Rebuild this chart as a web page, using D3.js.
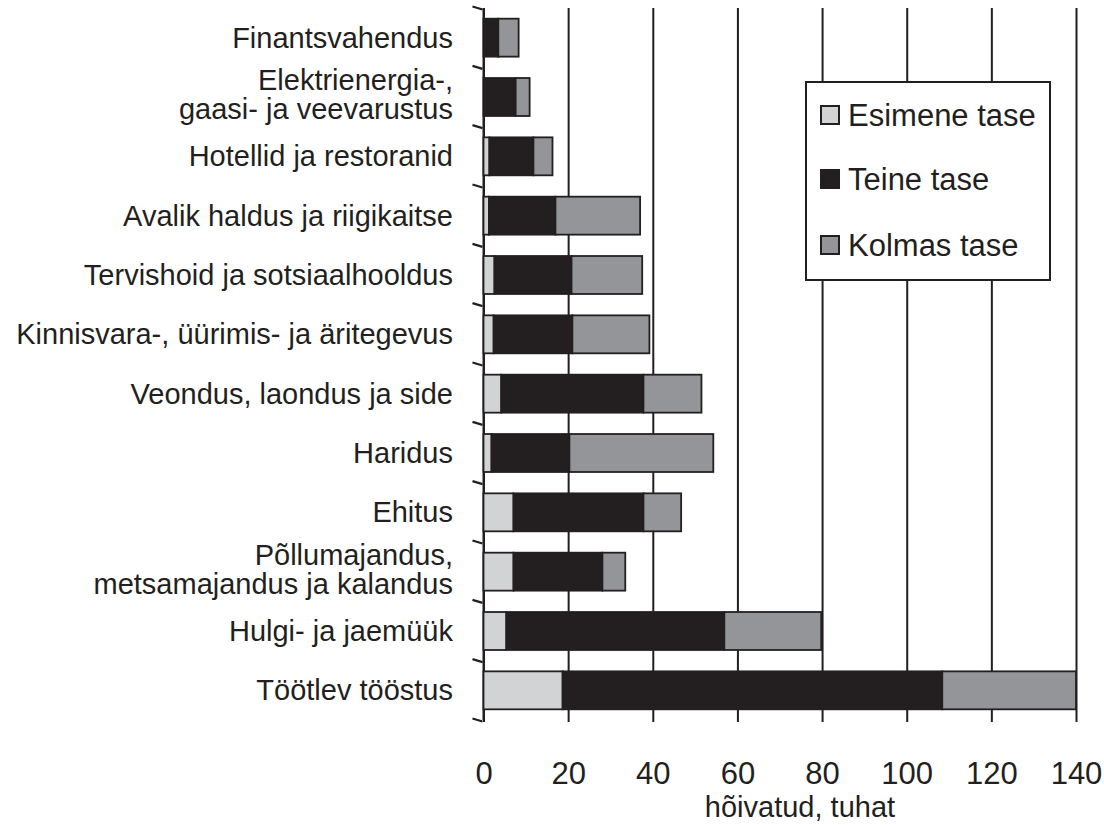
<!DOCTYPE html>
<html>
<head>
<meta charset="utf-8">
<script src="https://cdn.jsdelivr.net/npm/d3@7"></script>
<style>
  html, body { margin: 0; padding: 0; background: #ffffff; }
  svg { display: block; }
  text { font-family: "Liberation Sans", Arial, Helvetica, sans-serif; fill: #231f20; }
</style>
</head>
<body>
<svg id="chart" width="1104" height="825"></svg>
<script>
// Tegevusalad (ülevalt alla) ja hõivatute arv tasemeti, tuhat
const categories = [
  ["Finantsvahendus"],
  ["Elektrienergia-,", "gaasi- ja veevarustus"],
  ["Hotellid ja restoranid"],
  ["Avalik haldus ja riigikaitse"],
  ["Tervishoid ja sotsiaalhooldus"],
  ["Kinnisvara-, üürimis- ja äritegevus"],
  ["Veondus, laondus ja side"],
  ["Haridus"],
  ["Ehitus"],
  ["Põllumajandus,", "metsamajandus ja kalandus"],
  ["Hulgi- ja jaemüük"],
  ["Töötlev tööstus"]
];
const esimene = [0, 0, 1.4, 1.3, 2.6, 2.4, 4.2, 1.9, 7.1, 7.1, 5.4, 18.7];
const teine   = [3.5, 7.6, 10.4, 15.7, 18.2, 18.6, 33.6, 18.4, 30.7, 21.0, 51.5, 89.7];
const kolmas  = [4.8, 3.3, 4.5, 20.0, 16.7, 18.2, 13.7, 34.0, 8.9, 5.4, 22.9, 31.6];
const seriesNames = ["Esimene tase", "Teine tase", "Kolmas tase"];
const seriesColors = ["#d1d3d4", "#231f20", "#939598"];
const xTicks = [0, 20, 40, 60, 80, 100, 120, 140];
const xTitle = "hõivatud, tuhat";

const ink = "#231f20";
const svg = d3.select("#chart");

const keys = categories.map(c => c.join(" "));
const rows = keys.map((k, i) => ({ key: k, s0: esimene[i], s1: teine[i], s2: kolmas[i] }));

const plotTop = 8, plotBottom = 720, gridBottom = 722;
const x = d3.scaleLinear().domain([0, 140]).range([483.5, 1076]);
const y = d3.scaleBand().domain(keys).range([plotTop, plotBottom])
  .paddingInner(0.36).paddingOuter(0.18);

// x axis: tick labels plus full-height gridlines
const xAxis = svg.append("g")
  .attr("transform", `translate(0,${gridBottom})`)
  .call(d3.axisBottom(x).tickValues(xTicks).tickSize(-(gridBottom - plotTop)).tickPadding(40));
xAxis.select(".domain").remove();
xAxis.selectAll(".tick line").attr("stroke", ink).attr("stroke-width", 2);
xAxis.selectAll(".tick text")
  .attr("font-size", 31).attr("fill", ink)
  .style("font-family", "'Liberation Sans', Arial, sans-serif");

// axis title
svg.append("text")
  .attr("x", 800).attr("y", 817)
  .attr("text-anchor", "middle")
  .attr("font-size", 29)
  .text(xTitle);

// y axis line and slanted category separators
svg.append("line")
  .attr("x1", x(0)).attr("x2", x(0))
  .attr("y1", plotTop).attr("y2", plotBottom)
  .attr("stroke", ink).attr("stroke-width", 2);

const step = y.step();
const bounds = d3.range(keys.length + 1).map(i => plotTop + i * step);
svg.append("g").selectAll("line").data(bounds).join("line")
  .attr("x1", x(0) - 11).attr("y1", d => d - 1.5)
  .attr("x2", x(0) - 1).attr("y2", d => d + 1.5)
  .attr("stroke", ink).attr("stroke-width", 2.2);

// stacked bars
const stack = d3.stack().keys(["s0", "s1", "s2"]);
const stacked = stack(rows);
svg.append("g").selectAll("g").data(stacked).join("g")
  .attr("fill", (d, i) => seriesColors[i])
  .selectAll("rect").data(d => d.filter(p => p[1] - p[0] > 0)).join("rect")
  .attr("x", d => x(d[0]))
  .attr("width", d => x(d[1]) - x(d[0]))
  .attr("y", d => y(d.data.key))
  .attr("height", y.bandwidth())
  .attr("stroke", ink).attr("stroke-width", 1.8);

// category labels (two-line labels as separate lines)
const labelG = svg.append("g");
categories.forEach((lines, i) => {
  const cy = y(keys[i]) + y.bandwidth() / 2;
  const baselines = lines.length === 1 ? [cy + 10] : [cy - 7, cy + 22];
  lines.forEach((line, j) => {
    labelG.append("text")
      .attr("x", 453).attr("y", baselines[j])
      .attr("text-anchor", "end")
      .attr("font-size", 29)
      .text(line);
  });
});

// legend
const legend = svg.append("g");
legend.append("rect")
  .attr("x", 806).attr("y", 82).attr("width", 244).attr("height", 198)
  .attr("fill", "#ffffff").attr("stroke", ink).attr("stroke-width", 2);
const legendY = [115, 179, 245];
seriesNames.forEach((name, i) => {
  legend.append("rect")
    .attr("x", 821).attr("y", legendY[i] - 9).attr("width", 18).attr("height", 18)
    .attr("fill", seriesColors[i]).attr("stroke", ink).attr("stroke-width", 2);
  legend.append("text")
    .attr("x", 848).attr("y", legendY[i] + 11)
    .attr("font-size", 31)
    .text(name);
});
</script>
</body>
</html>
